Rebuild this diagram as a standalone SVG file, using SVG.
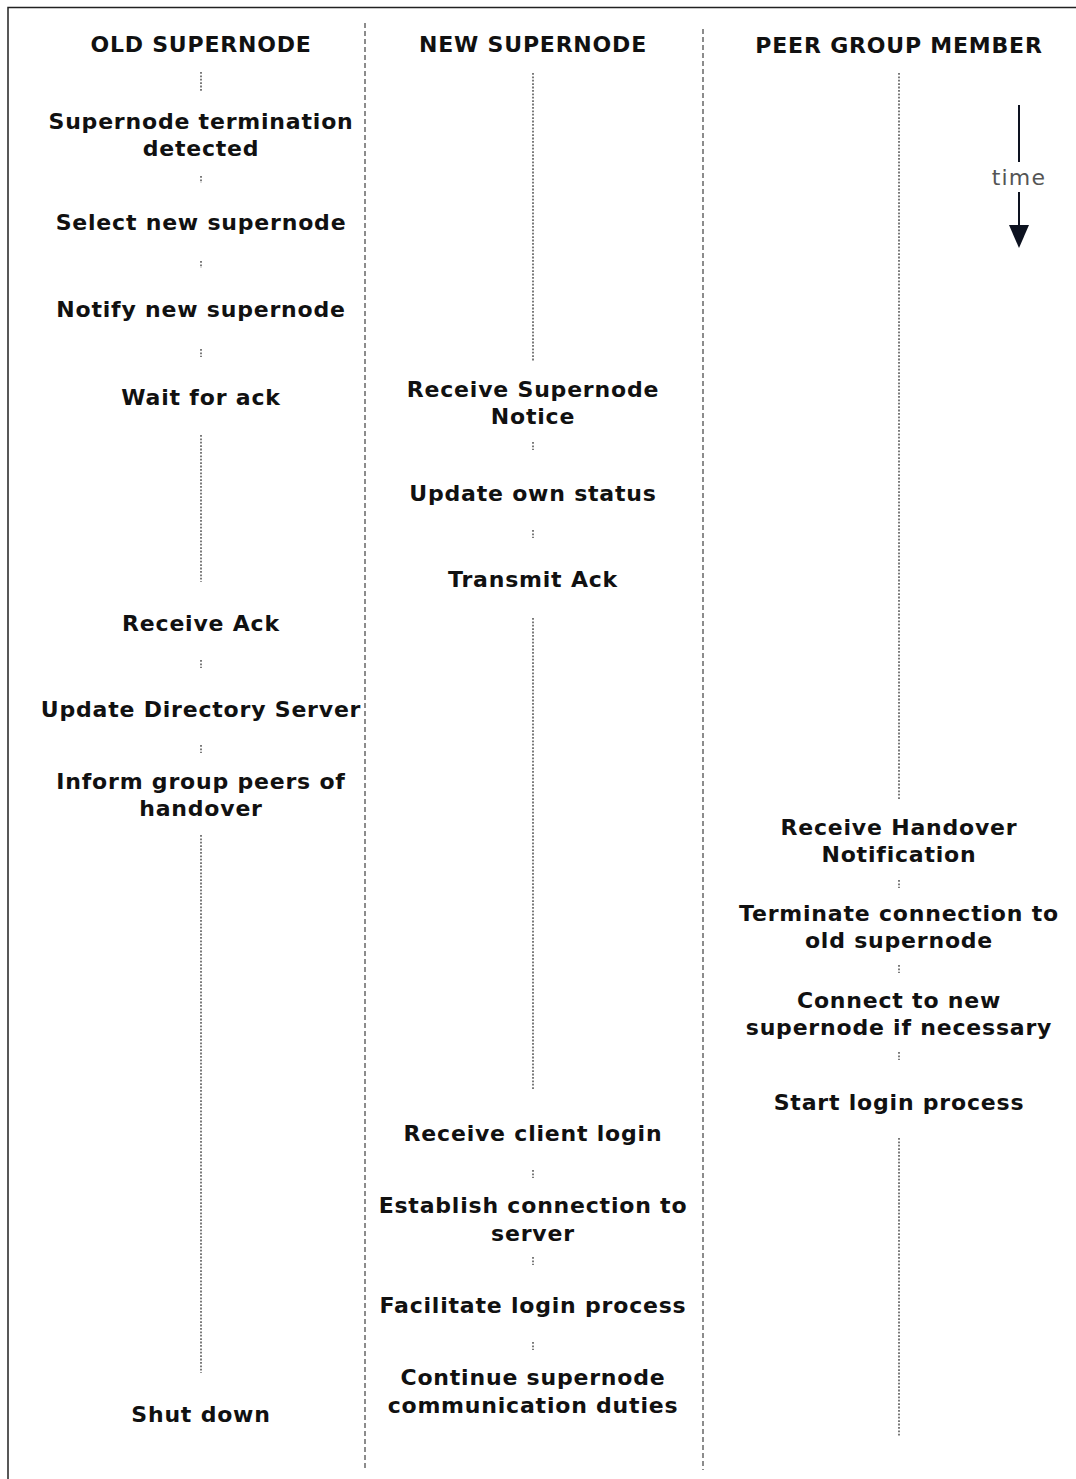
<svg xmlns="http://www.w3.org/2000/svg" width="1076" height="1479" viewBox="0 0 1076 1479">
<style>
.t{font-family:"DejaVu Sans","Verdana",sans-serif;font-weight:bold;font-size:22px;fill:#111;text-anchor:middle;letter-spacing:0.8px}
.sep{stroke:#808080;stroke-width:1.8;stroke-dasharray:5 3;fill:none}
.dot{stroke:#7a7a7a;stroke-width:2;stroke-dasharray:1.8 1.6;fill:none}
</style>
<rect width="1076" height="1479" fill="#fff"/>
<rect x="8" y="7.5" width="1100" height="1500" fill="none" stroke="#222" stroke-width="1.5"/>
<g id="separators">
<line class="sep" x1="365" y1="23" x2="365" y2="1468"/>
<line class="sep" x1="703" y1="29" x2="703" y2="1470"/>
</g>
<g id="connectors">
<line class="dot" x1="201" y1="72" x2="201" y2="92"/>
<line class="dot" x1="201" y1="176" x2="201" y2="183"/>
<line class="dot" x1="201" y1="261" x2="201" y2="268"/>
<line class="dot" x1="201" y1="349" x2="201" y2="357"/>
<line class="dot" x1="201" y1="435" x2="201" y2="582"/>
<line class="dot" x1="201" y1="660" x2="201" y2="668"/>
<line class="dot" x1="201" y1="745" x2="201" y2="753"/>
<line class="dot" x1="201" y1="835" x2="201" y2="1373"/>
<line class="dot" x1="533" y1="73" x2="533" y2="361"/>
<line class="dot" x1="533" y1="442" x2="533" y2="450"/>
<line class="dot" x1="533" y1="530" x2="533" y2="538"/>
<line class="dot" x1="533" y1="618" x2="533" y2="1090"/>
<line class="dot" x1="533" y1="1170" x2="533" y2="1178"/>
<line class="dot" x1="533" y1="1257" x2="533" y2="1265"/>
<line class="dot" x1="533" y1="1342" x2="533" y2="1350"/>
<line class="dot" x1="899" y1="73" x2="899" y2="799"/>
<line class="dot" x1="899" y1="880" x2="899" y2="888"/>
<line class="dot" x1="899" y1="965" x2="899" y2="973"/>
<line class="dot" x1="899" y1="1052" x2="899" y2="1060"/>
<line class="dot" x1="899" y1="1138" x2="899" y2="1436"/>
</g>
<g id="col-old">
<text id="h-old" class="t" x="201" y="52">OLD SUPERNODE</text>
<g id="n-term"><text class="t" x="201" y="129">Supernode termination</text><text class="t" x="201" y="156">detected</text></g>
<g id="n-select"><text class="t" x="201" y="230">Select new supernode</text></g>
<g id="n-notify"><text class="t" x="201" y="317">Notify new supernode</text></g>
<g id="n-wait"><text class="t" x="201" y="405">Wait for ack</text></g>
<g id="n-recack"><text class="t" x="201" y="631">Receive Ack</text></g>
<g id="n-updir"><text class="t" x="201" y="717">Update Directory Server</text></g>
<g id="n-inform"><text class="t" x="201" y="789">Inform group peers of</text><text class="t" x="201" y="816">handover</text></g>
<g id="n-shut"><text class="t" x="201" y="1422">Shut down</text></g>
</g>
<g id="col-new">
<text id="h-new" class="t" x="533" y="52">NEW SUPERNODE</text>
<g id="n-recnotice"><text class="t" x="533" y="397">Receive Supernode</text><text class="t" x="533" y="424">Notice</text></g>
<g id="n-upown"><text class="t" x="533" y="501">Update own status</text></g>
<g id="n-tx"><text class="t" x="533" y="587">Transmit Ack</text></g>
<g id="n-reclogin"><text class="t" x="533" y="1141">Receive client login</text></g>
<g id="n-estab"><text class="t" x="533" y="1213">Establish connection to</text><text class="t" x="533" y="1241">server</text></g>
<g id="n-facil"><text class="t" x="533" y="1313">Facilitate login process</text></g>
<g id="n-cont"><text class="t" x="533" y="1385">Continue supernode</text><text class="t" x="533" y="1413">communication duties</text></g>
</g>
<g id="col-peer">
<text id="h-peer" class="t" x="899" y="53">PEER GROUP MEMBER</text>
<g id="n-rechand"><text class="t" x="899" y="835">Receive Handover</text><text class="t" x="899" y="862">Notification</text></g>
<g id="n-termconn"><text class="t" x="899" y="921">Terminate connection to</text><text class="t" x="899" y="948">old supernode</text></g>
<g id="n-connect"><text class="t" x="899" y="1008">Connect to new</text><text class="t" x="899" y="1035">supernode if necessary</text></g>
<g id="n-start"><text class="t" x="899" y="1110">Start login process</text></g>
</g>
<g id="time-arrow">
<line x1="1019" y1="105" x2="1019" y2="162" stroke="#0d1220" stroke-width="2"/>
<text x="1019" y="185" font-family="DejaVu Sans, sans-serif" font-size="22" letter-spacing="1.2" fill="#555" text-anchor="middle">time</text>
<line x1="1019" y1="192" x2="1019" y2="228" stroke="#0d1220" stroke-width="2"/>
<polygon points="1009,225 1029,225 1019,248" fill="#0d1220"/>
</g>
</svg>
